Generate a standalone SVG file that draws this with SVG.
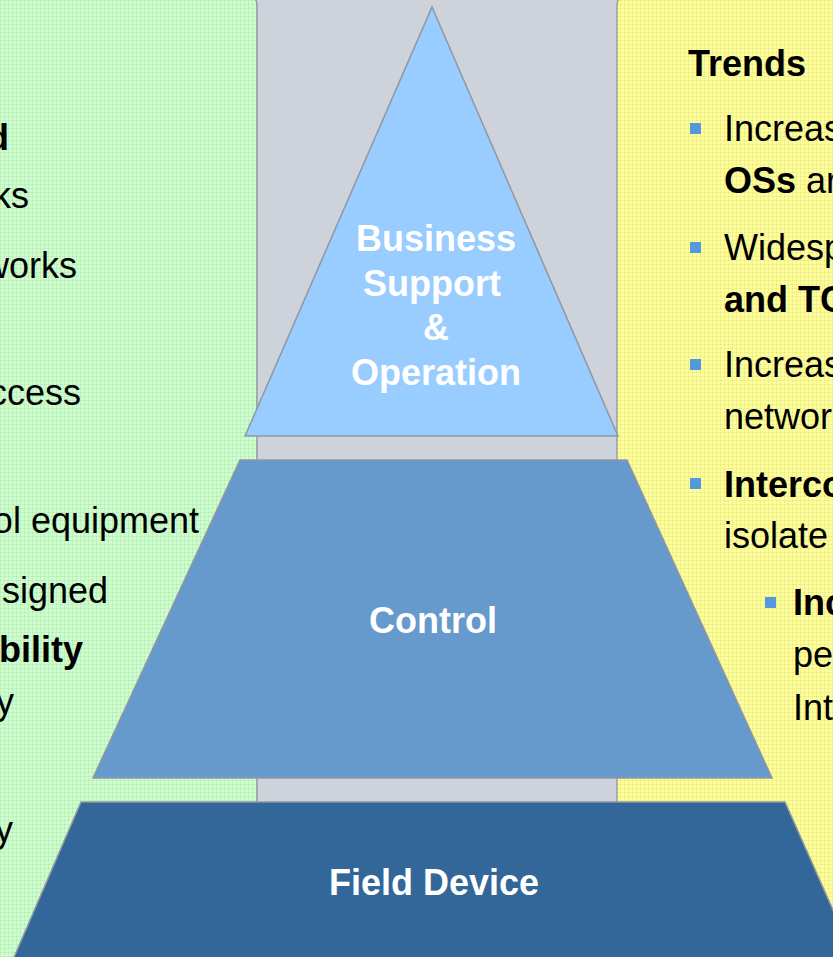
<svg xmlns="http://www.w3.org/2000/svg" width="833" height="957" viewBox="0 0 833 957">
  <defs>
    <pattern id="grid" width="4" height="4" patternUnits="userSpaceOnUse">
      <path d="M0 0.5H4M0.5 0V4" stroke="#000" stroke-opacity="0.05" stroke-width="1" fill="none"/>
    </pattern>
    <style>
      .panel-green { fill: #CCFFCC; stroke: #9AA0A8; stroke-width: 1.5; }
      .panel-yellow { fill: #FFFF99; stroke: #9AA0A8; stroke-width: 1.5; }
      .tex { fill: url(#grid); stroke: none; }
      .layer { stroke: #9197A0; stroke-width: 1.5; stroke-linejoin: miter; }
      .lbl { font-family: "Liberation Sans", Arial, sans-serif; font-size: 36px; font-weight: bold; fill: #FFFFFF; text-anchor: middle; }
      .txt { font-family: "Liberation Sans", Arial, sans-serif; font-size: 36px; fill: #000000; }
      .b { font-weight: bold; }
      .end { text-anchor: end; }
      .bul { fill: #5599DD; }
    </style>
  </defs>

  <rect x="0" y="0" width="833" height="957" fill="#CED2DA"/>

  <g id="panel-left">
    <rect class="panel-green" x="-30" y="-7" width="287" height="1000" rx="12"/>
    <rect class="tex" x="-30" y="-7" width="287" height="1000" rx="12"/>
    <text class="txt b end" x="9" y="150">d</text>
    <text class="txt end" x="29" y="208">ks</text>
    <text class="txt end" x="77" y="278">works</text>
    <text class="txt end" x="81" y="405">ccess</text>
    <text class="txt end" x="199" y="533">ol equipment</text>
    <text class="txt end" x="108" y="603">signed</text>
    <text class="txt b end" x="83" y="662">bility</text>
    <text class="txt end" x="14" y="714">y</text>
    <text class="txt end" x="13" y="842">y</text>
  </g>

  <g id="panel-right">
    <rect class="panel-yellow" x="617" y="-7" width="260" height="1000" rx="12"/>
    <rect class="tex" x="617" y="-7" width="260" height="1000" rx="12"/>
    <text class="txt b" x="688" y="76">Trends</text>
    <rect class="bul" x="690" y="123" width="11" height="11"/>
    <text class="txt" x="724" y="141">Increas</text>
    <text class="txt" x="724" y="193"><tspan class="b">OSs</tspan> ar</text>
    <rect class="bul" x="690" y="242" width="11" height="11"/>
    <text class="txt" x="724" y="260">Widesp</text>
    <text class="txt b" x="724" y="312">and TC</text>
    <rect class="bul" x="690" y="359" width="11" height="11"/>
    <text class="txt" x="724" y="377">Increas</text>
    <text class="txt" x="724" y="429">networ</text>
    <rect class="bul" x="690" y="478" width="11" height="11"/>
    <text class="txt b" x="724" y="497">Interco</text>
    <text class="txt" x="724" y="548">isolate</text>
    <rect class="bul" x="765" y="597" width="11" height="11"/>
    <text class="txt b" x="793" y="615">Inc</text>
    <text class="txt" x="793" y="667">pe</text>
    <text class="txt" x="793" y="720">Int</text>
  </g>

  <g id="layer-business">
    <polygon class="layer" fill="#99CCFF" points="432,7 618,436 245,436"/>
    <text class="lbl" x="436" y="251">Business</text>
    <text class="lbl" x="432" y="296">Support</text>
    <text class="lbl" x="436" y="340">&amp;</text>
    <text class="lbl" x="436" y="385">Operation</text>
  </g>

  <g id="layer-control">
    <polygon class="layer" fill="#6699CC" points="240,460 627,460 772,778 93,778"/>
    <text class="lbl" x="433" y="633">Control</text>
  </g>

  <g id="layer-field">
    <polygon class="layer" fill="#336699" points="81,802 785,802 856,962 12,962"/>
    <text class="lbl" x="434" y="895">Field Device</text>
  </g>

  <g id="connectors"/>
</svg>
